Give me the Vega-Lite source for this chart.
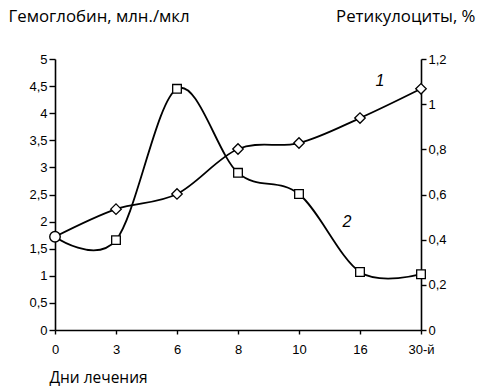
{
  "$schema": "https://vega.github.io/schema/vega-lite/v6.json",
  "autosize": "none",
  "width": 366,
  "height": 271,
  "padding": {"left": 55, "top": 59, "right": 60, "bottom": 58},
  "background": "white",
  "config": {
    "view": {"stroke": null},
    "axis": {
      "domainColor": "black", "domainWidth": 1.6, "tickColor": "black", "tickWidth": 1.4,
      "labelFont": "Liberation Sans", "labelFontSize": 13, "labelColor": "black",
      "titleFont": "Open Sans", "titleFontSize": 16.8, "titleFontWeight": "normal", "titleColor": "black",
      "grid": false
    }
  },
  "datasets": {
    "d": [
      {"day": "0", "hb": 1.72, "ret": 0.413},
      {"day": "3", "hb": 2.23, "ret": 0.398},
      {"day": "6", "hb": 2.51, "ret": 1.068},
      {"day": "8", "hb": 3.34, "ret": 0.696},
      {"day": "10", "hb": 3.45, "ret": 0.602},
      {"day": "16", "hb": 3.91, "ret": 0.257},
      {"day": "30-й", "hb": 4.45, "ret": 0.247}
    ],
    "labels": [
      {"day": "16", "hb": 4.6, "label": "1", "shift": 20},
      {"day": "16", "hb": 2.0, "label": "2", "shift": -13}
    ]
  },
  "encoding": {
    "x": {
      "field": "day", "type": "ordinal",
      "sort": ["0", "3", "6", "8", "10", "16", "30-й"],
      "scale": {"type": "point", "padding": 0},
      "axis": {
        "labelAngle": 0, "tickSize": 4, "labelPadding": 9,
        "title": "Дни лечения", "titleFontSize": 15.5, "titleAngle": 0, "titleAlign": "center",
        "titleAnchor": null, "titleX": 43, "titleY": 52, "titleBaseline": "alphabetic"
      }
    }
  },
  "layer": [
    {
      "data": {"name": "d"},
      "encoding": {
        "y": {
          "field": "hb", "type": "quantitative",
          "scale": {"domain": [0, 5], "nice": false, "zero": true},
          "axis": {
            "orient": "left", "values": [0, 0.5, 1, 1.5, 2, 2.5, 3, 3.5, 4, 4.5, 5],
            "labelExpr": "replace(format(datum.value, '~g'), '.', ',')",
            "tickSize": 6, "labelPadding": 2,
            "title": "Гемоглобин, млн./мкл", "titleAngle": 0, "titleAlign": "left",
            "titleAnchor": null, "titleX": -47, "titleY": -38, "titleBaseline": "alphabetic"
          }
        }
      },
      "layer": [
        {"mark": {"type": "line", "interpolate": "cardinal", "color": "black", "strokeWidth": 1.8}},
        {
          "transform": [{"filter": "datum.day !== '0'"}],
          "mark": {"type": "point", "shape": "diamond", "filled": true, "fill": "white", "stroke": "black", "strokeWidth": 1.3, "size": 110, "opacity": 1}
        }
      ]
    },
    {
      "data": {"name": "d"},
      "encoding": {
        "y": {
          "field": "ret", "type": "quantitative",
          "scale": {"domain": [0, 1.2], "nice": false, "zero": true},
          "axis": {
            "orient": "right", "values": [0, 0.2, 0.4, 0.6, 0.8, 1, 1.2],
            "labelExpr": "replace(format(datum.value, '~g'), '.', ',')",
            "tickSize": 5, "labelPadding": 2,
            "title": "Ретикулоциты, %", "titleAngle": 0, "titleAlign": "right",
            "titleAnchor": null, "titleX": 54, "titleY": -38, "titleBaseline": "alphabetic"
          }
        }
      },
      "layer": [
        {"mark": {"type": "line", "interpolate": "cardinal", "color": "black", "strokeWidth": 1.8}},
        {
          "transform": [{"filter": "datum.day !== '0'"}],
          "mark": {"type": "point", "shape": "square", "filled": true, "fill": "white", "stroke": "black", "strokeWidth": 1.3, "size": 75, "opacity": 1}
        }
      ]
    },
    {
      "encoding": {
        "y": {"field": "hb", "type": "quantitative", "scale": {"domain": [0, 5], "nice": false, "zero": true}, "axis": null}
      },
      "layer": [
        {
          "data": {"name": "d"},
          "transform": [{"filter": "datum.day === '0'"}],
          "mark": {"type": "point", "shape": "circle", "filled": true, "fill": "white", "stroke": "black", "strokeWidth": 1.4, "size": 110, "opacity": 1}
        },
        {
          "data": {"name": "labels"},
          "mark": {"type": "text", "font": "Liberation Sans", "fontSize": 16, "fontStyle": "italic", "color": "black", "align": "center", "baseline": "middle"},
          "encoding": {"text": {"field": "label"}, "xOffset": {"field": "shift", "type": "quantitative", "scale": null}}
        }
      ]
    }
  ],
  "resolve": {"scale": {"y": "independent"}}
}
